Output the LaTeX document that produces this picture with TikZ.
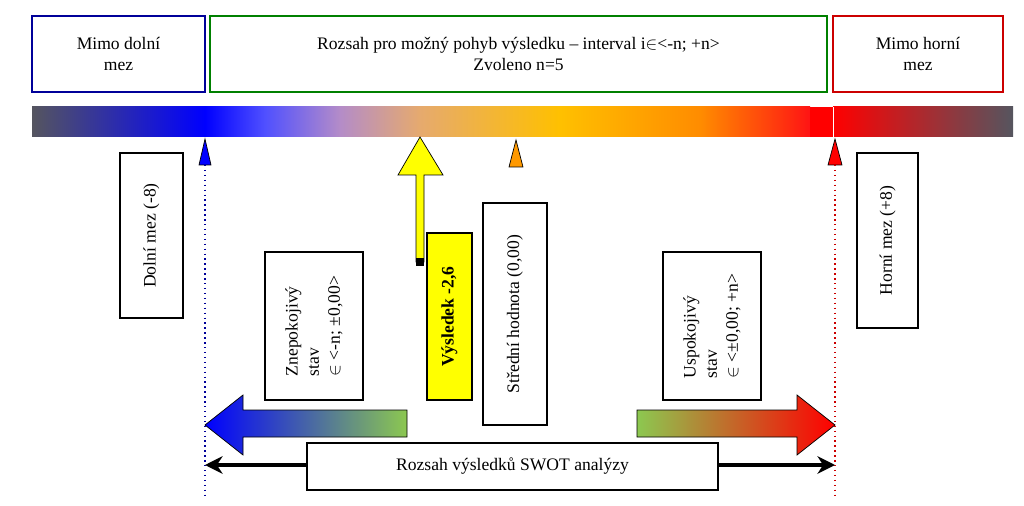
\documentclass[tikz,border=0pt]{standalone}
\usepackage{fontspec}
\setmainfont{Liberation Serif}
\usepackage{amssymb}
\usetikzlibrary{positioning}
\usetikzlibrary{arrows.meta}
\definecolor{sedy}{RGB}{85,85,95}
\definecolor{modry}{RGB}{0,0,255}
\definecolor{zluta}{RGB}{255,255,0}
\definecolor{zelena}{RGB}{140,200,80}
\begin{document}
\begin{tikzpicture}[x=0.02cm,y=-0.02cm,font=\fontsize{10}{12}\selectfont,
ramec/.style={draw,thick,align=center,inner sep=0pt},
svisly/.style={draw,thick,rotate=90,align=left,inner sep=0pt},
znacka/.style={draw,thin}
]
\useasboundingbox (0,0) rectangle (1024,506);
%-- horni ramce
\node[ramec,draw=blue!60!black,minimum width=173*0.02cm,minimum height=76*0.02cm](dolni) at (118.5,54){Mimo dolní\\mez};
\node[ramec,draw=green!50!black,minimum width=617*0.02cm,minimum height=76*0.02cm](rozsah) at (518.5,54){Rozsah pro možný pohyb výsledku -- interval i$\in$<-n; +n>\\Zvoleno n=5};
\node[ramec,draw=red!80!black,minimum width=170*0.02cm,minimum height=76*0.02cm](horni) at (918,54){Mimo horní\\mez};
%-- barevna skala
\shade[left color=sedy,right color=modry] (32,107) rectangle (205,137);
\shade[left color=modry,right color={rgb,255:red,80;green,80;blue,255}] (205,107) rectangle (265,137);
\shade[left color={rgb,255:red,80;green,80;blue,255},right color={rgb,255:red,180;green,140;blue,200}] (265,107) rectangle (340,137);
\shade[left color={rgb,255:red,180;green,140;blue,200},right color={rgb,255:red,230;green,170;blue,110}] (340,107) rectangle (420,137);
\shade[left color={rgb,255:red,230;green,170;blue,110},right color={rgb,255:red,255;green,192;blue,0}] (420,107) rectangle (560,137);
\shade[left color={rgb,255:red,255;green,192;blue,0},right color={rgb,255:red,255;green,140;blue,0}] (560,107) rectangle (700,137);
\shade[left color={rgb,255:red,255;green,140;blue,0},right color={rgb,255:red,255;green,20;blue,20}] (700,107) rectangle (810,137);
\fill[red] (810,107) rectangle (833,137);
\shade[left color=red,right color=sedy] (833,107) rectangle (1013,137);
\draw[white] (833,107) -- (833,137);
%-- znacky
\filldraw[znacka,fill=modry] (199,165) -- (205,139) -- (211,165) -- cycle;
\filldraw[znacka,fill=orange!80!yellow] (509,167) -- (516,140) -- (523,167) -- cycle;
\filldraw[znacka,fill=red] (828,165) -- (835,139) -- (842,165) -- cycle;
\draw[blue!60!black,dotted,thick] (205,165) -- (205,495);
\draw[red!80!black,dotted,thick] (835,165) -- (835,495);
%-- vysledek
\filldraw[znacka,fill=zluta] (420,137) -- (443,175) -- (424,175) -- (424,262) -- (416,262) -- (416,175) -- (398,175) -- cycle;
\fill[black] (416,258) rectangle (424,266);
%-- svisle ramce
\node[svisly,minimum width=165*0.02cm,minimum height=63*0.02cm](dmez) at (151.5,235.5){Dolní mez (-8)};
\node[svisly,minimum width=175*0.02cm,minimum height=61*0.02cm](hmez) at (887.5,240.5){Horní mez (+8)};
\node[svisly,minimum width=148*0.02cm,minimum height=98*0.02cm](znep) at (314,326){Znepokojivý\\stav\\$\in$ <-n; ±0,00>};
\node[svisly,fill=zluta,font=\fontsize{10}{12}\selectfont\bfseries,minimum width=167*0.02cm,minimum height=45*0.02cm](vysl) at (449.5,316.5){Výsledek -2,6};
\node[svisly,minimum width=222*0.02cm,minimum height=64*0.02cm](stred) at (515,314){Střední hodnota (0,00)};
\node[svisly,minimum width=148*0.02cm,minimum height=98*0.02cm](uspo) at (712,326){Uspokojivý\\stav\\$\in$ <±0,00; +n>};
%-- barevne sipky
\shade[draw,left color=modry,right color=zelena] (205,425) -- (243,395) -- (243,410) -- (407,410) -- (407,437) -- (243,437) -- (243,455) -- cycle;
\shade[draw,left color=zelena,right color=red] (835,425) -- (797,395) -- (797,410) -- (637,410) -- (637,437) -- (797,437) -- (797,455) -- cycle;
%-- rozsah SWOT
\coordinate (zac) at (205,465);
\coordinate (kon) at (835,465);
\draw[{Stealth[length=10pt,width=10pt]}-{Stealth[length=10pt,width=10pt]},line width=2pt] (zac) -- (kon);
\node[ramec,fill=white,minimum width=411*0.02cm,minimum height=47*0.02cm](swot) at (512.5,466.5){Rozsah výsledků SWOT analýzy};
\end{tikzpicture}
\end{document}
